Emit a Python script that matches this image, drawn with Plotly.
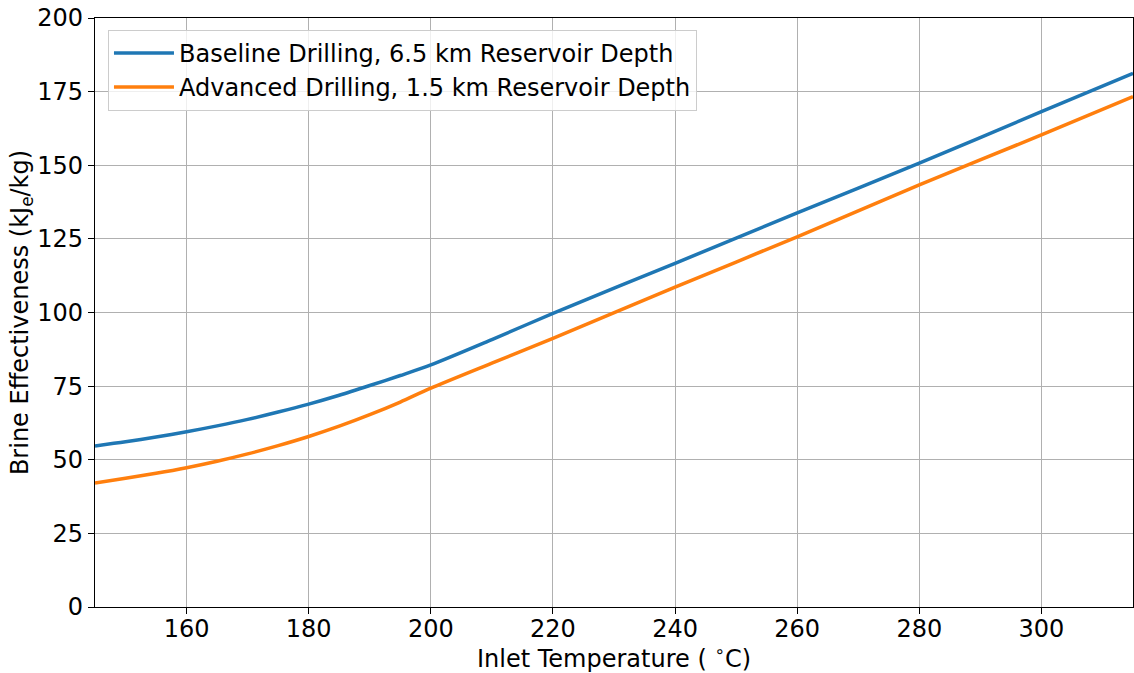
import plotly.graph_objects as go

temps = [145, 150, 155, 160, 165, 170, 175, 180, 185, 190, 195, 200, 210, 220, 240, 260, 280, 300, 315]
baseline = [54.7, 56.1, 57.7, 59.5, 61.5, 63.7, 66.2, 68.9, 71.9, 75.2, 78.6, 82.2, 90.8, 99.7, 116.7, 133.8, 150.7, 168.2, 181.2]
advanced = [42.1, 43.7, 45.4, 47.3, 49.5, 52.0, 54.8, 57.9, 61.4, 65.3, 69.6, 74.3, 82.8, 91.2, 108.6, 125.7, 143.3, 160.3, 173.3]

names = ["Baseline Drilling, 6.5 km Reservoir Depth", "Advanced Drilling, 1.5 km Reservoir Depth"]
colors = ["#1f77b4", "#ff7f0e"]

fig = go.Figure()
for ys, nm, c in zip([baseline, advanced], names, colors):
    fig.add_trace(go.Scatter(x=temps, y=ys, mode="lines", name=nm,
                             line=dict(color=c, width=3.5, shape="spline", smoothing=0.8)))

axis_common = dict(showline=True, linecolor="black", linewidth=1.2, mirror=True,
                   ticks="outside", ticklen=6, tickwidth=1.2, tickcolor="black",
                   showgrid=True, gridcolor="#b0b0b0", gridwidth=1, zeroline=False,
                   tickfont=dict(size=24, color="black"), automargin=False)

fig.update_layout(
    width=1134, height=673,
    margin=dict(l=95, r=1, t=18, b=66),
    paper_bgcolor="white", plot_bgcolor="white",
    font=dict(family="DejaVu Sans", size=24, color="black"),
    xaxis=dict(range=[145, 315], tickvals=[160, 180, 200, 220, 240, 260, 280, 300],
               ticklabelstandoff=-6,
               title=dict(text="Inlet Temperature ( <sup>∘</sup>C)", font=dict(size=24), standoff=4),
               **axis_common),
    yaxis=dict(range=[0, 200], tickvals=[0, 25, 50, 75, 100, 125, 150, 175, 200],
               title=dict(text="Brine Effectiveness (kJ<sub>e</sub>/kg)", font=dict(size=24), standoff=0),
               **axis_common),
    legend=dict(x=0.0125, y=0.98, xanchor="left", yanchor="top",
                bgcolor="rgba(255,255,255,0.8)", bordercolor="#cccccc", borderwidth=1,
                font=dict(size=24, color="black"), itemwidth=60, tracegroupgap=0),
    showlegend=True,
)

fig.write_html("out.html")
